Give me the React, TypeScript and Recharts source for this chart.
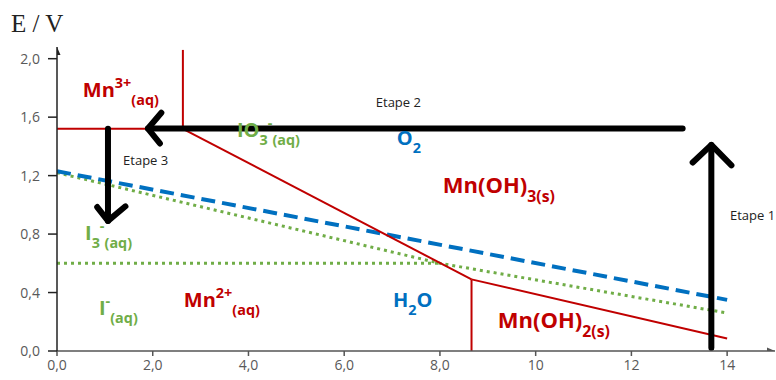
import React from 'react';
import { ComposedChart, Line, Scatter, XAxis, YAxis } from 'recharts';

const xTicks = [0, 2, 4, 6, 8, 10, 12, 14];
const yTicks = [0, 0.4, 0.8, 1.2, 1.6, 2.0];

// manganese boundaries (red)
const mn3Mn2 = [{ x: 0, y: 1.52 }, { x: 2.63, y: 1.52 }];
const mn3MnOH3 = [{ x: 2.63, y: 1.52 }, { x: 2.63, y: 2.06 }];
const mn2MnOH3 = [{ x: 2.63, y: 1.52 }, { x: 8.66, y: 0.49 }];
const mnOH3MnOH2 = [{ x: 8.66, y: 0.49 }, { x: 14, y: 0.085 }];
const mn2MnOH2 = [{ x: 8.66, y: 0 }, { x: 8.66, y: 0.49 }];

// water (blue dashed) and iodine (green dotted)
const o2H2o = [{ x: 0, y: 1.23 }, { x: 14, y: 0.35 }];
const iodate = [{ x: 0, y: 1.22 }, { x: 8, y: 0.6 }, { x: 14, y: 0.26 }];
const i3I = [{ x: 0, y: 0.6 }, { x: 8, y: 0.6 }];

// hand drawn arrows
const etape1 = [{ x: 13.67, y: 0.02 }, { x: 13.67, y: 1.41 }];
const etape1Head = [{ x: 13.28, y: 1.29 }, { x: 13.67, y: 1.41 }, { x: 14.09, y: 1.27 }];
const etape2 = [{ x: 13.07, y: 1.522 }, { x: 1.9, y: 1.522 }];
const etape2Head = [{ x: 2.18, y: 1.63 }, { x: 1.9, y: 1.522 }, { x: 2.15, y: 1.42 }];
const etape3 = [{ x: 1.065, y: 1.52 }, { x: 1.065, y: 0.89 }];
const etape3Head = [{ x: 0.84, y: 0.985 }, { x: 1.065, y: 0.89 }, { x: 1.43, y: 0.99 }];

const RED = '#C00000';
const GREEN = '#70AD47';
const BLUE = '#0070C0';

type Part = [string, 'n' | 'sup' | 'sub'];
const speciesLabels: { x: number; y: number; color: string; size: number; parts: Part[] }[] = [
  { x: 0.54, y: 1.738, color: RED, size: 20, parts: [['Mn', 'n'], ['3+', 'sup'], ['(aq)', 'sub']] },
  { x: 3.76, y: 1.464, color: GREEN, size: 20, parts: [['IO', 'n'], ['3', 'sub'], ['-', 'sup'], ['(aq)', 'sub']] },
  { x: 7.1, y: 1.41, color: BLUE, size: 20, parts: [['O', 'n'], ['2', 'sub']] },
  { x: 8.06, y: 1.081, color: RED, size: 22, parts: [['Mn(OH)', 'n'], ['3(s)', 'sub']] },
  { x: 0.585, y: 0.759, color: GREEN, size: 20, parts: [['I', 'n'], ['3', 'sub'], ['-', 'sup'], ['(aq)', 'sub']] },
  { x: 0.877, y: 0.246, color: GREEN, size: 20, parts: [['I', 'n'], ['-', 'sup'], ['(aq)', 'sub']] },
  { x: 2.65, y: 0.301, color: RED, size: 20, parts: [['Mn', 'n'], ['2+', 'sup'], ['(aq)', 'sub']] },
  { x: 7.02, y: 0.301, color: BLUE, size: 20, parts: [['H', 'n'], ['2', 'sub'], ['O', 'n']] },
  { x: 9.21, y: 0.157, color: RED, size: 22, parts: [['Mn(OH)', 'n'], ['2(s)', 'sub']] },
];

const stepLabels = [
  { x: 14.06, y: 0.896, text: 'Etape 1' },
  { x: 6.66, y: 1.67, text: 'Etape 2' },
  { x: 1.38, y: 1.273, text: 'Etape 3' },
];

const axisEnds = [
  { x: 0, y: 2.08, dir: 'up' },
  { x: 15, y: 0, dir: 'right' },
];

const FONT = "'Open Sans', sans-serif";

const SpeciesShape = (props: any) => {
  const { cx, cy, payload } = props;
  const size = payload.size;
  let cur = 0;
  return (
    <text x={cx} y={cy} fill={payload.color} fontSize={size} fontWeight={700} fontFamily={FONT}>
      {payload.parts.map(([t, k]: Part, i: number) => {
        const target = k === 'sup' ? -0.45 * size : k === 'sub' ? 0.4 * size : 0;
        const dy = target - cur;
        cur = target;
        return (
          <tspan key={i} dy={dy} fontSize={k === 'n' ? size : size * 0.72}>
            {t}
          </tspan>
        );
      })}
    </text>
  );
};

const StepShape = (props: any) => {
  const { cx, cy, payload } = props;
  return (
    <text x={cx} y={cy} fill="#222" fontSize={13} fontFamily={FONT}>
      {payload.text}
    </text>
  );
};

const AxisEndShape = (props: any) => {
  const { cx, cy, payload } = props;
  const pts =
    payload.dir === 'up'
      ? `${cx - 3.5},${cy + 8} ${cx},${cy} ${cx + 3.5},${cy + 8}`
      : `${cx - 8},${cy - 3.5} ${cx},${cy} ${cx - 8},${cy + 3.5}`;
  return <polygon points={pts} fill={payload.dir === 'up' ? '#222' : '#555'} />;
};

const fmtX = (v: number) => (v < 10 ? v.toFixed(1).replace('.', ',') : String(v));
const fmtY = (v: number) => v.toFixed(1).replace('.', ',');

const redLines = [mn3Mn2, mn3MnOH3, mn2MnOH3, mnOH3MnOH2, mn2MnOH2];
const arrowLines = [etape1, etape1Head, etape2, etape2Head, etape3, etape3Head];

export default function App() {
  return (
    <div style={{ position: 'absolute', left: 0, top: 0, width: 776, height: 380, background: '#fff' }}>
      <div
        style={{
          position: 'absolute',
          left: 11,
          top: 9,
          fontFamily: "'Liberation Serif', serif",
          fontSize: 25,
          lineHeight: '30px',
          color: '#222',
        }}
      >
        E / V
      </div>
      <ComposedChart width={776} height={380} margin={{ top: 47, right: 1, left: 0, bottom: 0 }}>
        <XAxis
          type="number"
          dataKey="x"
          domain={[0, 15]}
          ticks={xTicks}
          tickFormatter={fmtX}
          allowDataOverflow
          height={29}
          stroke="#555"
          strokeWidth={1.5}
          tickSize={5}
          tickMargin={4}
          tick={{ fill: '#595959', fontSize: 14, fontFamily: FONT }}
        />
        <YAxis
          type="number"
          dataKey="y"
          domain={[0, 2.08]}
          ticks={yTicks}
          tickFormatter={fmtY}
          allowDataOverflow
          width={57}
          stroke="#222"
          strokeWidth={1.5}
          tickSize={9}
          tickMargin={8}
          tick={{ fill: '#595959', fontSize: 14, fontFamily: FONT }}
        />
        <Scatter data={speciesLabels} dataKey="y" shape={SpeciesShape} isAnimationActive={false} />
        <Scatter data={stepLabels} dataKey="y" shape={StepShape} isAnimationActive={false} />
        <Scatter data={axisEnds} dataKey="y" shape={AxisEndShape} isAnimationActive={false} />
        <Line data={i3I} dataKey="y" type="linear" stroke={GREEN} strokeWidth={3} strokeDasharray="3 4" dot={false} isAnimationActive={false} />
        <Line data={iodate} dataKey="y" type="linear" stroke={GREEN} strokeWidth={3} strokeDasharray="3 4" dot={false} isAnimationActive={false} />
        <Line data={o2H2o} dataKey="y" type="linear" stroke={BLUE} strokeWidth={4} strokeDasharray="14 7" dot={false} isAnimationActive={false} />
        {redLines.map((d, i) => (
          <Line key={`r${i}`} data={d} dataKey="y" type="linear" stroke={RED} strokeWidth={2} dot={false} isAnimationActive={false} />
        ))}
        {arrowLines.map((d, i) => (
          <Line
            key={`a${i}`}
            data={d}
            dataKey="y"
            type="linear"
            stroke="#000"
            strokeWidth={6}
            strokeLinecap="round"
            strokeLinejoin="round"
            dot={false}
            isAnimationActive={false}
          />
        ))}
      </ComposedChart>
    </div>
  );
}
